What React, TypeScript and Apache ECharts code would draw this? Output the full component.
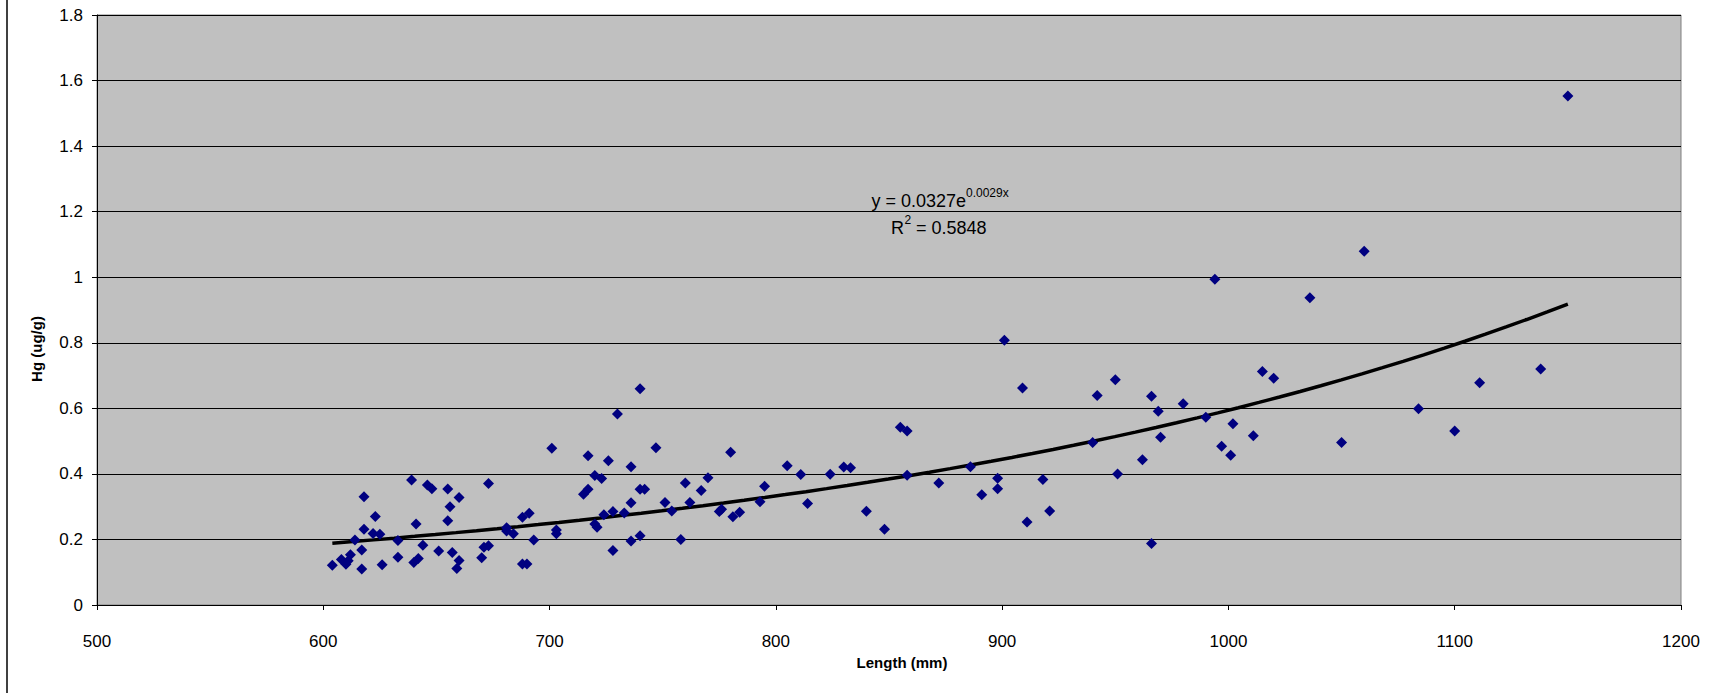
import React, { useEffect, useRef } from "react";
import * as echarts from "echarts";

// Fish length (mm) and mercury concentration (ug/g)
const lengthMm = [
  604, 608, 610, 611, 612, 614, 617, 617, 618, 618, 622, 623, 625, 626, 633, 633, 639, 641, 640, 642,
  644, 646, 648, 651, 655, 655, 656, 657, 659, 660, 660, 670, 671, 673, 673,
  681, 681, 684, 688, 688, 690, 691, 693, 701, 703, 703, 715, 717, 717, 720, 720, 721, 723, 724, 726,
  728, 728, 730, 733, 736, 736, 736, 740, 742, 740, 740,
  747, 751, 754, 758, 760, 762, 767, 770, 775, 776, 780, 781, 784, 793, 795, 805, 811, 814, 824, 830,
  833, 840, 848, 855, 858, 858, 872,
  886, 891, 898, 898, 911, 918, 921, 940, 951, 962, 966, 969, 970, 980, 990, 997, 1001, 1002,
  901, 909, 942, 950, 966, 994, 1015, 1020, 1036, 1060, 1084, 1111,
  1011, 1050, 1100, 1138, 1150,
];
const hgUgPerG = [
  0.121, 0.139, 0.124, 0.135, 0.153, 0.198, 0.168, 0.110, 0.330, 0.231, 0.218, 0.270, 0.216, 0.123, 0.197, 0.146, 0.381, 0.247, 0.130, 0.142,
  0.182, 0.366, 0.355, 0.165, 0.354, 0.257, 0.300, 0.160, 0.111, 0.328, 0.136, 0.144, 0.176, 0.371, 0.181,
  0.236, 0.226, 0.217, 0.268, 0.125, 0.125, 0.280, 0.198, 0.478, 0.229, 0.217, 0.338, 0.353, 0.455, 0.395, 0.247, 0.237, 0.386, 0.275, 0.440,
  0.285, 0.166, 0.583, 0.281, 0.422, 0.312, 0.195, 0.353, 0.353, 0.211, 0.660,
  0.480, 0.313, 0.287, 0.200, 0.372, 0.313, 0.349, 0.388, 0.285, 0.292, 0.466, 0.269, 0.283, 0.315, 0.362, 0.425, 0.398, 0.310, 0.399, 0.421,
  0.419, 0.286, 0.231, 0.542, 0.531, 0.396, 0.372,
  0.422, 0.336, 0.387, 0.355, 0.253, 0.383, 0.287, 0.496, 0.400, 0.443, 0.188, 0.591, 0.512, 0.614, 0.573, 0.484, 0.457, 0.553,
  0.808, 0.662, 0.639, 0.687, 0.637, 0.994, 0.712, 0.692, 0.937, 1.079, 0.599, 0.678,
  0.516, 0.496, 0.531, 0.720, 1.553,
];

// Exponential trendline shown in the chart: y = 0.0327 e^(0.0029x), R^2 = 0.5848
const trendA = 0.0327;
const trendB = 0.0029;
const trendR2 = 0.5848;

const xAxisMin = 500;
const xAxisMax = 1200;
const xAxisStep = 100;
const yAxisMin = 0;
const yAxisMax = 1.8;
const yAxisStep = 0.2;

const FONT = "'Liberation Sans', Arial, sans-serif";

export default function App() {
  const ref = useRef<HTMLDivElement>(null);

  useEffect(() => {
    if (!ref.current) return;
    const chart = echarts.init(ref.current, null, { renderer: "svg" });

    const points = lengthMm.map((x, i) => [x, hgUgPerG[i]]);
    const xLo = Math.min(...lengthMm);
    const xHi = Math.max(...lengthMm);
    const trend: number[][] = [];
    const steps = 60;
    for (let i = 0; i <= steps; i++) {
      const x = xLo + ((xHi - xLo) * i) / steps;
      trend.push([x, trendA * Math.exp(trendB * x)]);
    }

    chart.setOption({
      animation: false,
      backgroundColor: "#ffffff",
      grid: {
        left: 97,
        right: 34,
        top: 15,
        bottom: 88,
        show: true,
        backgroundColor: "#c0c0c0",
        borderColor: "#808080",
        borderWidth: 1,
      },
      xAxis: {
        type: "value",
        min: xAxisMin,
        max: xAxisMax,
        interval: xAxisStep,
        axisLine: { show: true, lineStyle: { color: "#000", width: 1 } },
        axisTick: { show: true, length: 5, lineStyle: { color: "#000" } },
        splitLine: { show: false },
        axisLabel: {
          color: "#000",
          fontFamily: FONT,
          fontSize: 17,
          margin: 28,
          formatter: (v: number) => String(v),
        },
      },
      yAxis: {
        type: "value",
        min: yAxisMin,
        max: yAxisMax,
        interval: yAxisStep,
        axisLine: { show: true, lineStyle: { color: "#000", width: 1 } },
        axisTick: { show: true, length: 5, lineStyle: { color: "#000" } },
        splitLine: { show: true, lineStyle: { color: "#000", width: 1 } },
        axisLabel: {
          color: "#000",
          fontFamily: FONT,
          fontSize: 17,
          margin: 14,
          formatter: (v: number) => String(Math.round(v * 10) / 10),
        },
      },
      series: [
        {
          type: "scatter",
          name: "Hg",
          data: points,
          symbol: "diamond",
          symbolSize: 11,
          itemStyle: { color: "#000080", opacity: 1 },
          z: 3,
        },
        {
          type: "line",
          name: "Expon. trend",
          data: trend,
          showSymbol: false,
          smooth: false,
          lineStyle: { color: "#000", width: 3.5 },
          z: 2,
        },
      ],
      graphic: [
        {
          type: "line",
          shape: { x1: 7, y1: 0, x2: 7, y2: 693 },
          style: { stroke: "#000", lineWidth: 1.5 },
        },
        {
          type: "text",
          x: 36,
          y: 349,
          rotation: Math.PI / 2,
          style: {
            text: "Hg (ug/g)",
            font: `bold 15px ${FONT}`,
            fill: "#000",
            align: "center",
            verticalAlign: "middle",
          },
        },
        {
          type: "text",
          x: 902,
          y: 662,
          style: {
            text: "Length (mm)",
            font: `bold 15px ${FONT}`,
            fill: "#000",
            align: "center",
            verticalAlign: "middle",
          },
        },
        {
          type: "text",
          x: 966,
          y: 201,
          style: {
            text: `y = ${trendA}e`,
            font: `18px ${FONT}`,
            fill: "#000",
            align: "right",
            verticalAlign: "middle",
          },
        },
        {
          type: "text",
          x: 966,
          y: 193,
          style: {
            text: `${trendB}x`,
            font: `12px ${FONT}`,
            fill: "#000",
            align: "left",
            verticalAlign: "middle",
          },
        },
        {
          type: "text",
          x: 904,
          y: 228,
          style: {
            text: "R",
            font: `18px ${FONT}`,
            fill: "#000",
            align: "right",
            verticalAlign: "middle",
          },
        },
        {
          type: "text",
          x: 904.5,
          y: 220,
          style: {
            text: "2",
            font: `12px ${FONT}`,
            fill: "#000",
            align: "left",
            verticalAlign: "middle",
          },
        },
        {
          type: "text",
          x: 911,
          y: 228,
          style: {
            text: ` = ${trendR2}`,
            font: `18px ${FONT}`,
            fill: "#000",
            align: "left",
            verticalAlign: "middle",
          },
        },
      ],
    });

    return () => chart.dispose();
  }, []);

  return (
    <div
      ref={ref}
      style={{ position: "fixed", left: 0, top: 0, width: 1715, height: 693, background: "#fff" }}
    />
  );
}
